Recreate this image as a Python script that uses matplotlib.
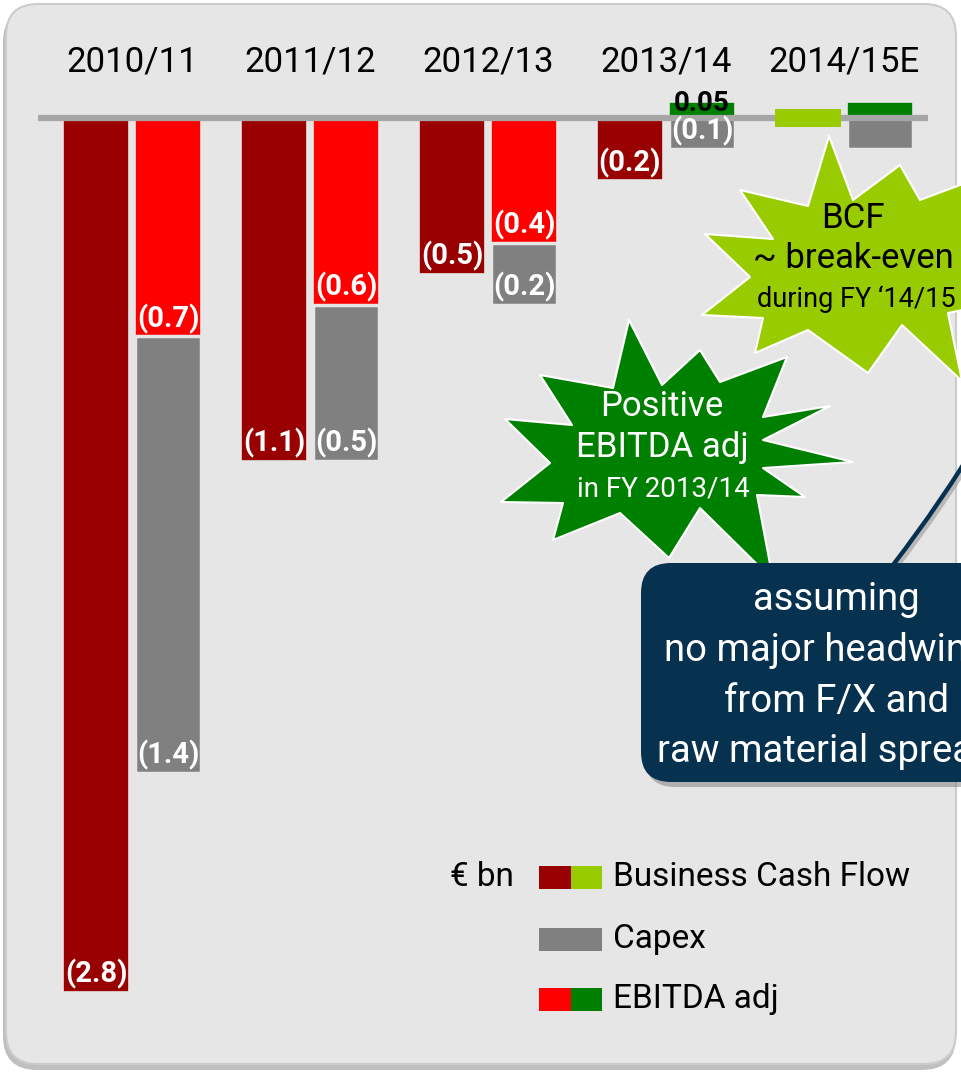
import numpy as np
import matplotlib.pyplot as plt
from matplotlib.patches import FancyBboxPatch, Polygon, PathPatch, Rectangle
from matplotlib.path import Path
from matplotlib.transforms import Affine2D

plt.rcParams['font.family'] = ['Roboto', 'DejaVu Sans']

# € bn per fiscal year
years = ['2010/11', '2011/12', '2012/13', '2013/14', '2014/15E']
bcf = [-2.8, -1.1, -0.5, -0.2, 0.0]
ebitda = [-0.7, -0.6, -0.4, 0.05, 0.05]
capex = [-1.4, -0.5, -0.2, -0.1, -0.1]
bcf_labels = ['(2.8)', '(1.1)', '(0.5)', '(0.2)', '']
ebitda_labels = ['(0.7)', '(0.6)', '(0.4)', '0.05', '']
capex_labels = ['(1.4)', '(0.5)', '(0.2)', '(0.1)', '']

DARK_RED, LIME = '#990000', '#99cc00'
RED, GREEN = '#ff0000', '#008000'
GREY = '#808080'
NAVY = '#06314f'
PANEL = '#e6e6e6'

fig = plt.figure(figsize=(9.61, 10.74), dpi=100)
fig.patch.set_facecolor('white')

# background panel in pixel space
bg = fig.add_axes([0, 0, 1, 1], zorder=0)
bg.set_xlim(0, 961)
bg.set_ylim(1074, 0)
bg.axis('off')
bg.add_patch(FancyBboxPatch((3, 8), 953, 1062, boxstyle='round,pad=0,rounding_size=34',
                            fc='#8c8c8c', ec='none', alpha=0.55))
bg.add_patch(FancyBboxPatch((6, 4), 950, 1060, boxstyle='round,pad=0,rounding_size=32',
                            fc=PANEL, ec='#cccccc', lw=1.5))

# bars
ax = fig.add_axes([0, 0, 1, 1], zorder=1)
ax.patch.set_alpha(0)
ax.set_xlim(-0.744, 4.659)
ax.set_ylim(-3.064, 0.378)
ax.axis('off')

x = np.arange(len(years))
w = 0.371
off = 0.2025
band = 0.03  # half-height of the break-even marker

ax.plot([-0.53, 4.474], [0, 0], color='#a6a6a6', lw=4.5, solid_capstyle='butt', zorder=3)

lbl_kw = dict(textcoords='offset points', ha='center', va='bottom', color='white',
              fontweight='bold', fontsize=21, zorder=6)

for i in range(len(years)):
    # business cash flow
    if bcf[i] < 0:
        ax.bar(x[i] - off, bcf[i], w, color=DARK_RED, edgecolor=PANEL, lw=1.2, zorder=2)
        ax.annotate(bcf_labels[i], (x[i] - off, bcf[i]), xytext=(0, 2), **lbl_kw)
    else:
        ax.bar(x[i] - off, 2 * band, w, bottom=bcf[i] - band, color=LIME, zorder=4)

    # EBITDA adj with capex stacked underneath
    e_col = RED if ebitda[i] < 0 else GREEN
    ax.bar(x[i] + off, ebitda[i], w, color=e_col, edgecolor=PANEL, lw=1.2, zorder=2)
    base = min(ebitda[i], 0)
    ax.bar(x[i] + off, capex[i], w, bottom=base, color=GREY, edgecolor=PANEL, lw=2.5, zorder=2)

    if ebitda_labels[i]:
        if ebitda[i] < 0:
            ax.annotate(ebitda_labels[i], (x[i] + off, ebitda[i]), xytext=(0, 2), **lbl_kw)
        else:
            ax.annotate(ebitda_labels[i], (x[i] + off, ebitda[i]), xytext=(0, -1),
                        textcoords='offset points', ha='center', va='center',
                        color='black', fontweight='bold', fontsize=20, zorder=6)
    if capex_labels[i]:
        ax.annotate(capex_labels[i], (x[i] + off, base + capex[i]), xytext=(0, 2), **lbl_kw)

    ax.annotate(years[i], (x[i], 0), xytext=(0, 40), textcoords='offset points',
                ha='center', va='center', fontsize=25, color='black')

# callouts and legend in pixel space
ov = fig.add_axes([0, 0, 1, 1], zorder=2)
ov.patch.set_alpha(0)
ov.set_xlim(0, 961)
ov.set_ylim(1074, 0)
ov.axis('off')

lime_star = [(829, 136), (853, 200), (900, 165), (920, 200), (1000, 170), (975, 260),
             (1010, 300), (948, 313), (962, 381), (902, 325), (868, 373), (808, 330),
             (755, 353), (763, 318), (702, 315), (750, 277), (705, 234), (773, 239),
             (740, 190), (808, 206)]
ov.add_patch(Polygon(lime_star, closed=True, fc=LIME, ec='white', lw=1.5, joinstyle='round'))
ov.text(853, 218, 'BCF', ha='center', va='center', fontsize=25)
ov.text(853, 258, '~ break-even', ha='center', va='center', fontsize=25)
ov.text(856, 299, 'during FY \u201814/15', ha='center', va='center', fontsize=19.5)

green_star = [(629, 320), (662, 385), (700, 350), (720, 382), (787, 357), (763, 417),
              (830, 406), (763, 440), (853, 462), (763, 468), (805, 497), (757, 495),
              (773, 580), (700, 508), (669, 558), (620, 513), (553, 540), (563, 503),
              (501, 502), (550, 463), (505, 419), (572, 425), (540, 375), (613, 388)]
ov.add_patch(Polygon(green_star, closed=True, fc=GREEN, ec='white', lw=1.5, joinstyle='round'))
ov.text(662, 407, 'Positive', ha='center', va='center', fontsize=25, color='white')
ov.text(662, 447, 'EBITDA adj', ha='center', va='center', fontsize=25, color='white')
ov.text(663, 489, 'in FY 2013/14', ha='center', va='center', fontsize=20, color='white')

# navy note box with the arc rising out of it
arc = Path([(893, 565), (941, 503), (985, 430)], [Path.MOVETO, Path.CURVE3, Path.CURVE3])
ov.add_patch(PathPatch(arc.transformed(Affine2D().translate(3, 3)),
                       fc='none', ec='#9a9a9a', lw=3, alpha=0.6))
ov.add_patch(PathPatch(arc, fc='none', ec=NAVY, lw=3.2))
ov.add_patch(FancyBboxPatch((645, 568), 400, 219, boxstyle='round,pad=0,rounding_size=30',
                            fc='#7a7a7a', ec='none', alpha=0.5))
ov.add_patch(FancyBboxPatch((641, 563), 400, 219, boxstyle='round,pad=0,rounding_size=30',
                            fc=NAVY, ec='none'))
note = ['assuming', 'no major headwinds', 'from F/X and', 'raw material spreads']
for k, line in enumerate(note):
    ov.text(836, 600 + 50.5 * k, line, ha='center', va='center', fontsize=27.5, color='white')

# legend
ov.text(450, 877, '\u20ac bn', ha='left', va='center', fontsize=24)
swatches = [((DARK_RED, LIME), 'Business Cash Flow', 866),
            ((GREY, GREY), 'Capex', 928),
            ((RED, GREEN), 'EBITDA adj', 988)]
for (c1, c2), name, top in swatches:
    ov.add_patch(Rectangle((539, top), 32, 23, fc=c1, ec='none'))
    ov.add_patch(Rectangle((571, top), 31, 23, fc=c2, ec='none'))
    ov.text(613, top + 11, name, ha='left', va='center', fontsize=24)

fig.savefig('out.png', dpi=100)
